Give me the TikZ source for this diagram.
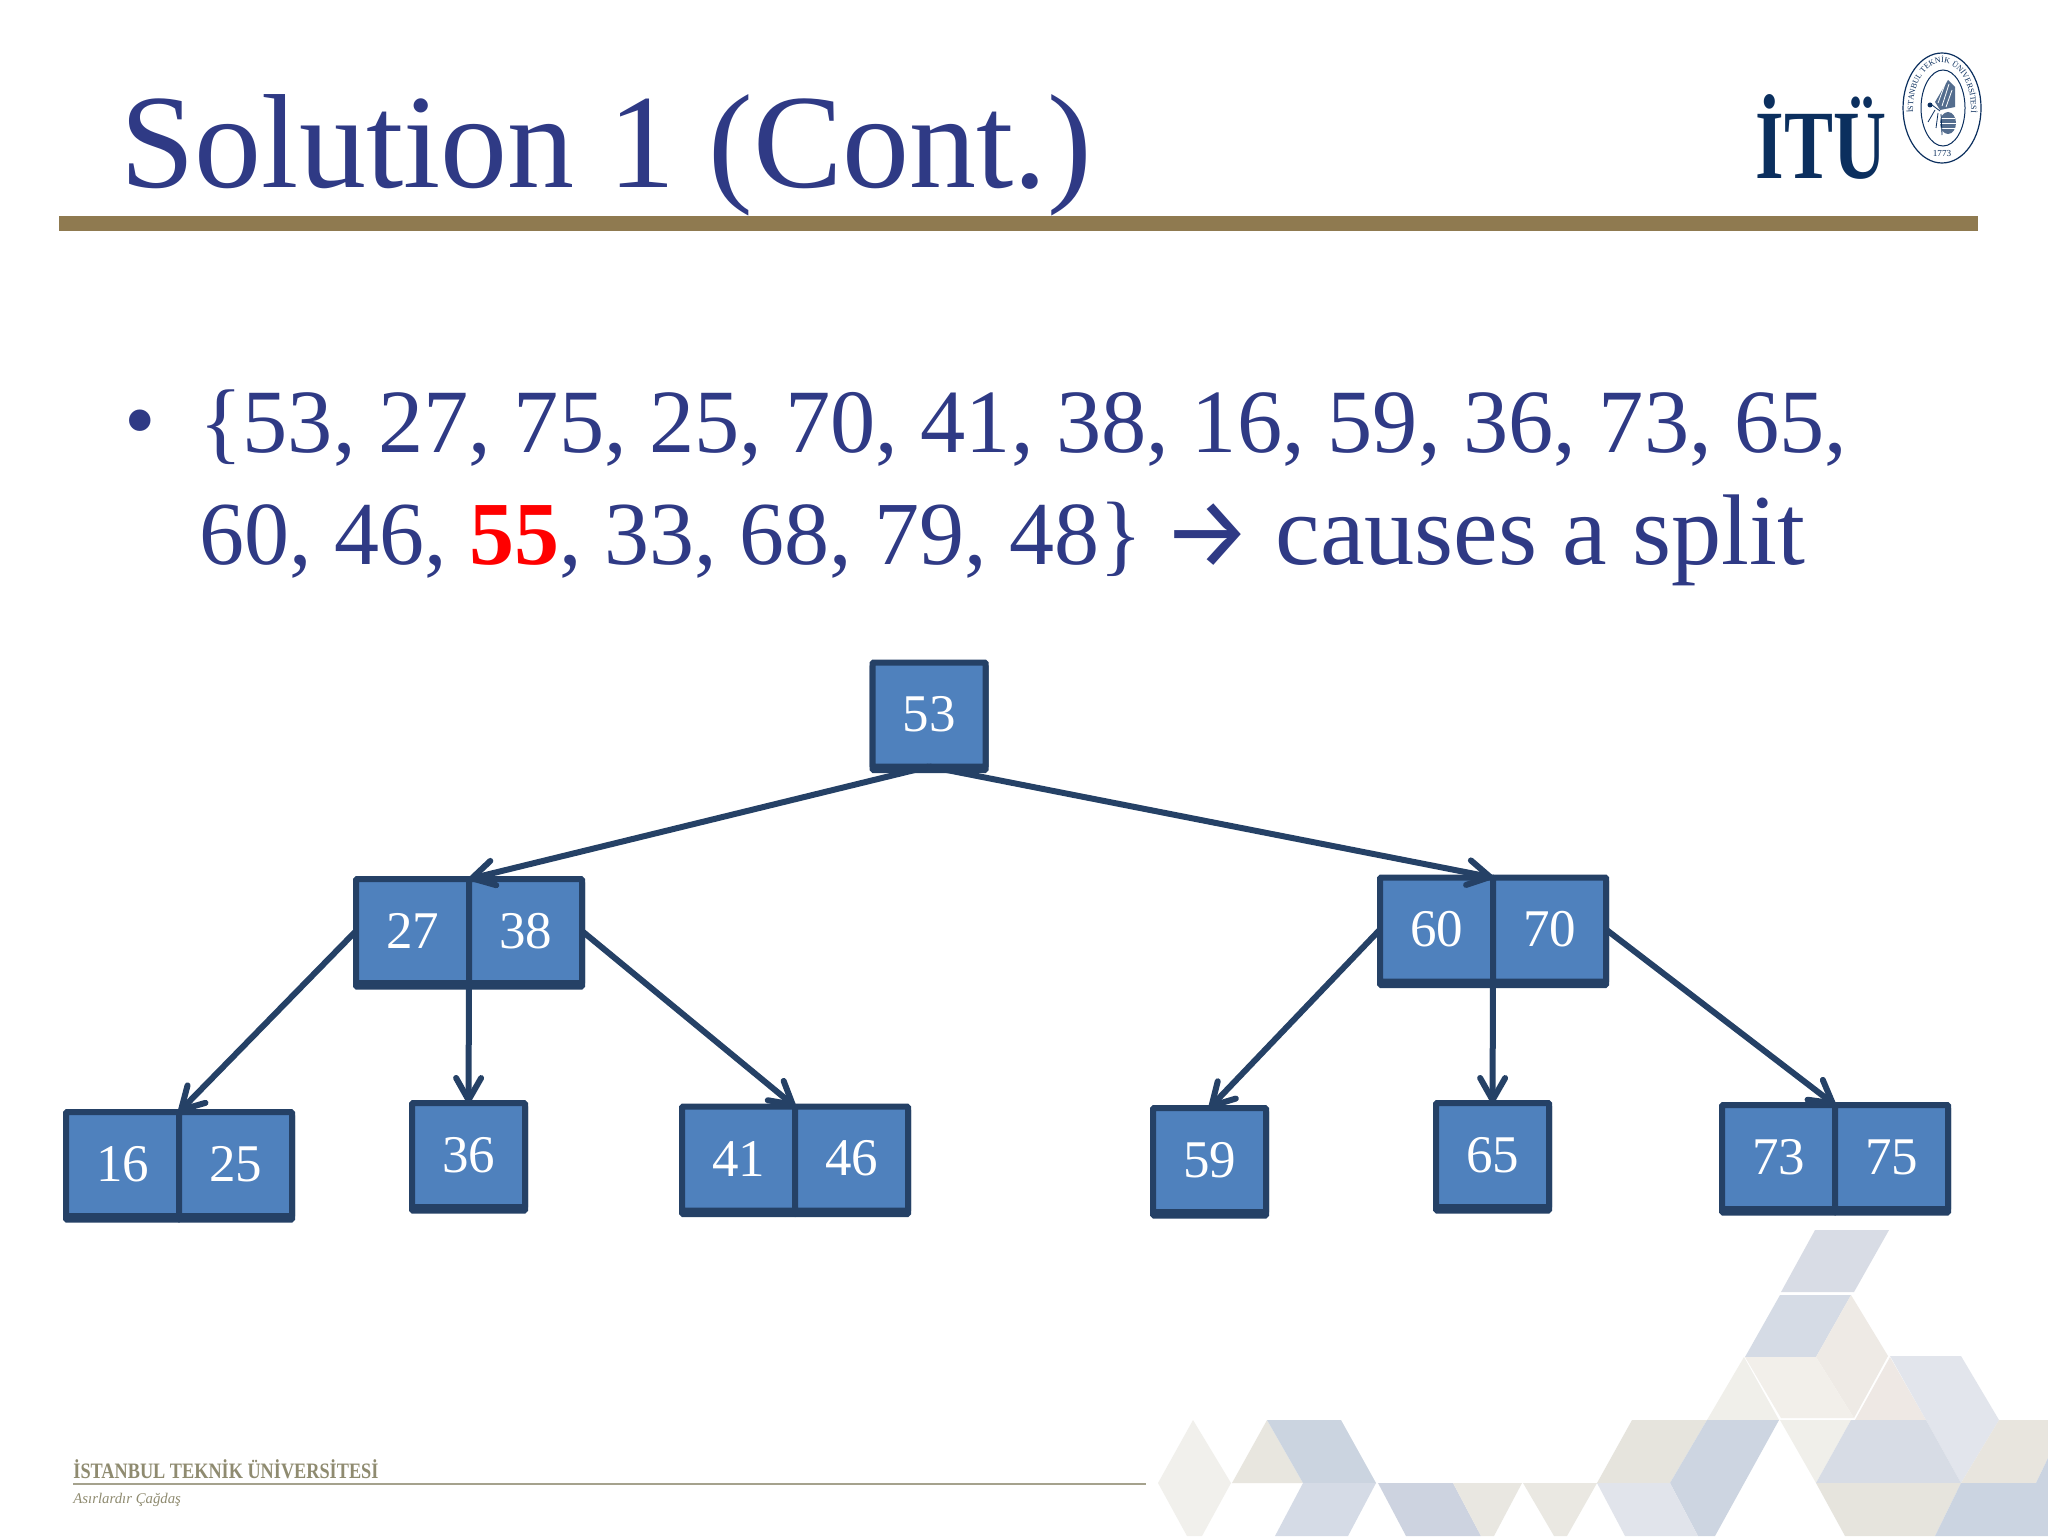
\documentclass[tikz,border=0pt]{standalone}
\usepackage{fontspec}
\setmainfont{Liberation Serif}
\newfontfamily\arrowfont{Fira Sans}
\usetikzlibrary{arrows.meta,decorations.text}
\definecolor{slideblue}{HTML}{2F3A85}
\definecolor{rulebrown}{HTML}{8F7A50}
\definecolor{logoblue}{HTML}{0B2F5E}
\definecolor{boxfill}{HTML}{4F81BD}
\definecolor{boxedge}{HTML}{254166}
\definecolor{footgrey}{HTML}{8F8B70}
\tikzset{
  keybox/.style={draw=boxedge, fill=boxfill, line width=3pt, rounded corners=.5pt,
    preaction={draw=boxedge, fill=boxedge, transform canvas={yshift=-1.75pt}},
    minimum width=56.5pt, minimum height=52pt, inner sep=0pt, outer sep=0pt,
    text=white, font=\fontsize{26.5}{26.5}\selectfont},
  childline/.style={draw=boxedge, line width=3pt, -{Straight Barb[length=11pt,width=12.5pt,round]}},
  tile/.style={draw=none}
}
\begin{document}
\begin{tikzpicture}[x=.5pt,y=-.5pt]
\useasboundingbox (0,0) rectangle (2048,1536);
\fill[white] (0,0) rectangle (2048,1536);

% tiles
\fill[tile,fill={rgb,255:red,216;green,220;blue,229}] (1815,1230) -- (1889,1230) -- (1854,1292) -- (1781,1292) -- cycle;
\fill[tile,fill={rgb,255:red,213;green,219;blue,229}] (1780,1295) -- (1851,1295) -- (1816,1357) -- (1745,1357) -- cycle;
\fill[tile,fill={rgb,255:red,238;green,234;blue,229}] (1851,1295) -- (1888,1356) -- (1854,1418) -- (1816,1357) -- cycle;
\fill[tile,fill={rgb,255:red,242;green,239;blue,234}] (1745,1357) -- (1816,1357) -- (1854,1418) -- (1781,1418) -- cycle;
\fill[tile,fill={rgb,255:red,240;green,239;blue,234}] (1744,1357) -- (1779,1420) -- (1707,1420) -- cycle;
\fill[tile,fill={rgb,255:red,238;green,232;blue,228}] (1890,1357) -- (1926,1420) -- (1855,1420) -- cycle;
\fill[tile,fill={rgb,255:red,226;green,229;blue,236}] (1890,1356) -- (1961,1356) -- (1999,1420) -- (1961,1483) -- (1926,1420) -- cycle;
\fill[tile,fill={rgb,255:red,240;green,239;blue,234}] (1780,1420) -- (1851,1420) -- (1816,1483) -- cycle;
\fill[tile,fill={rgb,255:red,215;green,220;blue,229}] (1851,1420) -- (1926,1420) -- (1961,1483) -- (1816,1483) -- cycle;
\fill[tile,fill={rgb,255:red,232;green,229;blue,222}] (1999,1420) -- (2048,1420) -- (2048,1458) -- (2036,1483) -- (1961,1483) -- cycle;
\fill[tile,fill={rgb,255:red,230;green,228;blue,221}] (1816,1483) -- (1961,1483) -- (1935,1536) -- (1845,1536) -- cycle;
\fill[tile,fill={rgb,255:red,203;green,212;blue,225}] (1961,1483) -- (2048,1483) -- (2048,1536) -- (1935,1536) -- cycle;
\fill[tile,fill={rgb,255:red,203;green,212;blue,225}] (2048,1458) -- (2048,1483) -- (2036,1483) -- cycle;
\fill[tile,fill={rgb,255:red,230;green,228;blue,221}] (1632,1420) -- (1707,1420) -- (1670,1483) -- (1597,1483) -- cycle;
\fill[tile,fill={rgb,255:red,205;green,213;blue,225}] (1707,1420) -- (1779,1420) -- (1715,1536) -- (1698,1536) -- (1670,1483) -- cycle;
\fill[tile,fill={rgb,255:red,225;green,228;blue,235}] (1597,1483) -- (1670,1483) -- (1698,1536) -- (1625,1536) -- cycle;
\fill[tile,fill={rgb,255:red,241;green,240;blue,236}] (1193,1420) -- (1231,1483) -- (1202,1536) -- (1187,1536) -- (1158,1483) -- cycle;
\fill[tile,fill={rgb,255:red,232;green,230;blue,223}] (1267,1420) -- (1303,1483) -- (1232,1483) -- cycle;
\fill[tile,fill={rgb,255:red,203;green,212;blue,224}] (1267,1420) -- (1341,1420) -- (1376,1483) -- (1303,1483) -- cycle;
\fill[tile,fill={rgb,255:red,213;green,219;blue,230}] (1303,1483) -- (1376,1483) -- (1348,1536) -- (1275,1536) -- cycle;
\fill[tile,fill={rgb,255:red,205;green,211;blue,224}] (1378,1483) -- (1453,1483) -- (1481,1536) -- (1406,1536) -- cycle;
\fill[tile,fill={rgb,255:red,233;green,231;blue,225}] (1453,1483) -- (1522,1483) -- (1494,1536) -- (1481,1536) -- cycle;
\fill[tile,fill={rgb,255:red,234;green,232;blue,226}] (1523,1483) -- (1597,1483) -- (1567,1536) -- (1554,1536) -- cycle;

% header
\node[anchor=base west, inner sep=0pt, text=slideblue, font=\fontsize{67}{67}\selectfont] (title) at (120,187) {Solution 1 (Cont.)};
\fill[rulebrown] (59,216) rectangle (1978,231);
\node[anchor=base west, inner sep=0pt, text=logoblue, font=\bfseries\fontsize{49}{49}\selectfont] (itu) at (1755,178) {\scalebox{.75}[1]{İTÜ}};

% seal
\draw[logoblue, line width=.6pt] (1942,108) ellipse [x radius=39, y radius=55];
\draw[logoblue, line width=.5pt] (1943,108) ellipse [x radius=22, y radius=38];
\path[decorate, decoration={text along path, text align=center, text color=logoblue,
  text={|\fontsize{4}{5}\selectfont|İSTANBUL TEKNİK ÜNİVERSİTESİ}}]
  (1919.8,136.9) arc [start angle=140, end angle=400, x radius=29, y radius=45];
\node[text=logoblue, inner sep=0pt, font=\fontsize{4.6}{5}\selectfont] (year) at (1942,153) {1773};
\fill[logoblue!70] (1948,80) -- (1955,87) -- (1955,107) -- (1940,110) -- (1935,102) -- cycle;
\draw[white, line width=.4pt] (1949,84) -- (1942,106) (1952,90) -- (1946,107) (1945,84) -- (1938,103);
\fill[logoblue!70] (1948,123) ellipse [x radius=8, y radius=11];
\draw[white, line width=.4pt] (1941,118) -- (1955,118) (1940,123) -- (1956,123) (1941,128) -- (1955,128);
\fill[logoblue] (1930,105) circle [radius=2.5];
\draw[logoblue, line width=.4pt] (1932,105) -- (1940,111) (1935,110) -- (1928,122) (1938,113) -- (1936,128) (1941,114) -- (1942,135);

% bullet text
\node[anchor=base, inner sep=0pt, text=slideblue, font=\fontsize{45}{45}\selectfont] (dot) at (140,450) {•};
\node[anchor=base west, inner sep=0pt, text=slideblue, font=\fontsize{45.2}{45}\selectfont] (lineone) at (199,452) {\{53, 27, 75, 25, 70, 41, 38, 16, 59, 36, 73, 65,};
\node[anchor=base west, inner sep=0pt, text=slideblue, font=\fontsize{45}{45}\selectfont] (linetwo) at (199,564) {60, 46, {\bfseries\color{red}55}, 33, 68, 79, 48\}};
\node[inner sep=0pt, text=slideblue, font=\arrowfont\fontsize{50}{50}\selectfont] (splitarrow) at (1207,536) {→};
\node[anchor=base west, inner sep=0pt, text=slideblue, font=\fontsize{50.2}{50}\selectfont] (causes) at (1275,564) {causes a split};

% tree
\node[keybox] (n53) at (929,714.5) {53};
\node[keybox] (n27) at (412.5,931) {27};
\node[keybox] (n38) at (525.5,931) {38};
\node[keybox] (n60) at (1436.5,929.5) {60};
\node[keybox] (n70) at (1549.5,929.5) {70};
\node[keybox] (n16) at (122.5,1164) {16};
\node[keybox] (n25) at (235.5,1164) {25};
\node[keybox] (n36) at (468.5,1155) {36};
\node[keybox] (n41) at (738.5,1158.5) {41};
\node[keybox] (n46) at (851.5,1158.5) {46};
\node[keybox] (n59) at (1209.5,1160) {59};
\node[keybox] (n65) at (1492.5,1155) {65};
\node[keybox] (n73) at (1778.5,1157) {73};
\node[keybox] (n75) at (1891.5,1157) {75};
\draw[childline] (n53.south) -- (n27.north east);
\draw[childline] (n53.south) -- (n60.north east);
\draw[childline] (n27.west) -- (n16.north east);
\draw[childline] (n27.south east) -- (n36.north);
\draw[childline] (n38.east) -- (n41.north east);
\draw[childline] (n60.west) -- (n59.north);
\draw[childline] (n60.south east) -- (n65.north);
\draw[childline] (n70.east) -- (n73.north east);

% footer
\node[anchor=base west, inner sep=0pt, text=footgrey, font=\bfseries\fontsize{11}{11}\selectfont] (uni) at (73,1478) {\scalebox{.83}[1]{İSTANBUL TEKNİK ÜNİVERSİTESİ}};
\node[anchor=base west, inner sep=0pt, text=footgrey, font=\itshape\fontsize{7.4}{8}\selectfont] (motto) at (73,1503) {Asırlardır Çağdaş};
\coordinate (footstart) at (73,1484);
\coordinate (footend) at (1146,1484);
\draw[footgrey!80, line width=1pt] (footstart) -- (footend);
\end{tikzpicture}
\end{document}
